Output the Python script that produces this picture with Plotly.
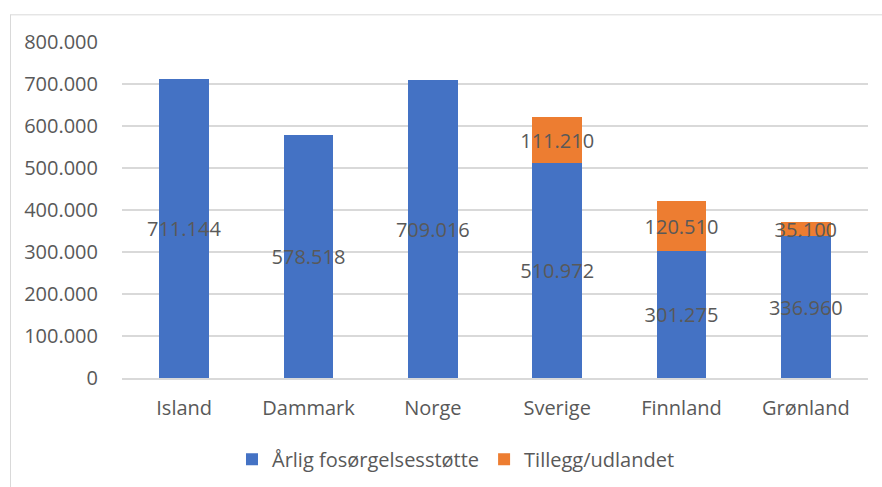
import plotly.graph_objects as go

categories = ["Island", "Dammark", "Norge", "Sverige", "Finnland", "Grønland"]
base_values = [711144, 578518, 709016, 510972, 301275, 336960]
extra_values = [None, None, None, 111210, 120510, 35100]
series_names = ["Årlig fosørgelsesstøtte", "Tillegg/udlandet"]
tick_vals = [0, 100000, 200000, 300000, 400000, 500000, 600000, 700000, 800000]
tick_text = ["0", "100.000", "200.000", "300.000", "400.000", "500.000", "600.000", "700.000", "800.000"]

def fmt(v):
    return "" if v is None else f"{v:,}".replace(",", ".")

FONT = "Open Sans"
GRAY = "#595959"
FS = 20

W, H = 882, 487
L, R, T, B = 122, 14, 41.7, 109
pw, ph = W - L - R, H - T - B

fig = go.Figure()
for vals, name, color in [(base_values, series_names[0], "#4472C4"),
                          (extra_values, series_names[1], "#ED7D31")]:
    fig.add_trace(go.Bar(
        x=categories, y=vals, name=name,
        marker=dict(color=color, line=dict(width=0)),
        text=[fmt(v) for v in vals], textposition="inside", textangle=0,
        insidetextanchor="middle", constraintext="none",
        textfont=dict(color=GRAY, size=FS, family=FONT),
    ))

# chart border (top and left visible)
fig.add_shape(type="line", xref="paper", yref="paper",
              x0=(10 - L) / pw, x1=(W + 5 - L) / pw,
              y0=(H - B - 14.5) / ph, y1=(H - B - 14.5) / ph,
              line=dict(color="#D9D9D9", width=1))
fig.add_shape(type="line", xref="paper", yref="paper",
              x0=(10.5 - L) / pw, x1=(10.5 - L) / pw,
              y0=(H - B - 14.5) / ph, y1=(H - B - H - 5) / ph,
              line=dict(color="#D9D9D9", width=1))

fig.update_layout(
    width=W, height=H,
    margin=dict(l=L, r=R, t=T, b=B, pad=0),
    barmode="stack", bargap=0.6,
    plot_bgcolor="white", paper_bgcolor="white",
    font=dict(family=FONT, color=GRAY, size=FS),
    showlegend=True,
    legend=dict(orientation="h", xref="container", yref="container",
                x=0.517, xanchor="center", y=0.057, yanchor="middle",
                font=dict(size=FS, color=GRAY, family=FONT),
                traceorder="normal", itemwidth=30, tracegroupgap=0),
    xaxis=dict(showline=True, linecolor="#D9D9D9", linewidth=1.5,
               ticks="", tickfont=dict(size=FS, color=GRAY, family=FONT),
               ticklabelstandoff=11, automargin=False),
    yaxis=dict(range=[0, 800000], tickvals=tick_vals, ticktext=tick_text,
               showgrid=True, gridcolor="#D9D9D9", gridwidth=1.5,
               zeroline=False, ticks="", automargin=False,
               tickfont=dict(size=FS, color=GRAY, family=FONT),
               ticklabelstandoff=23),
)

fig.write_html("out.html", config={"displayModeBar": False},
               post_script="document.body.style.margin='0';document.body.style.overflow='hidden';")
